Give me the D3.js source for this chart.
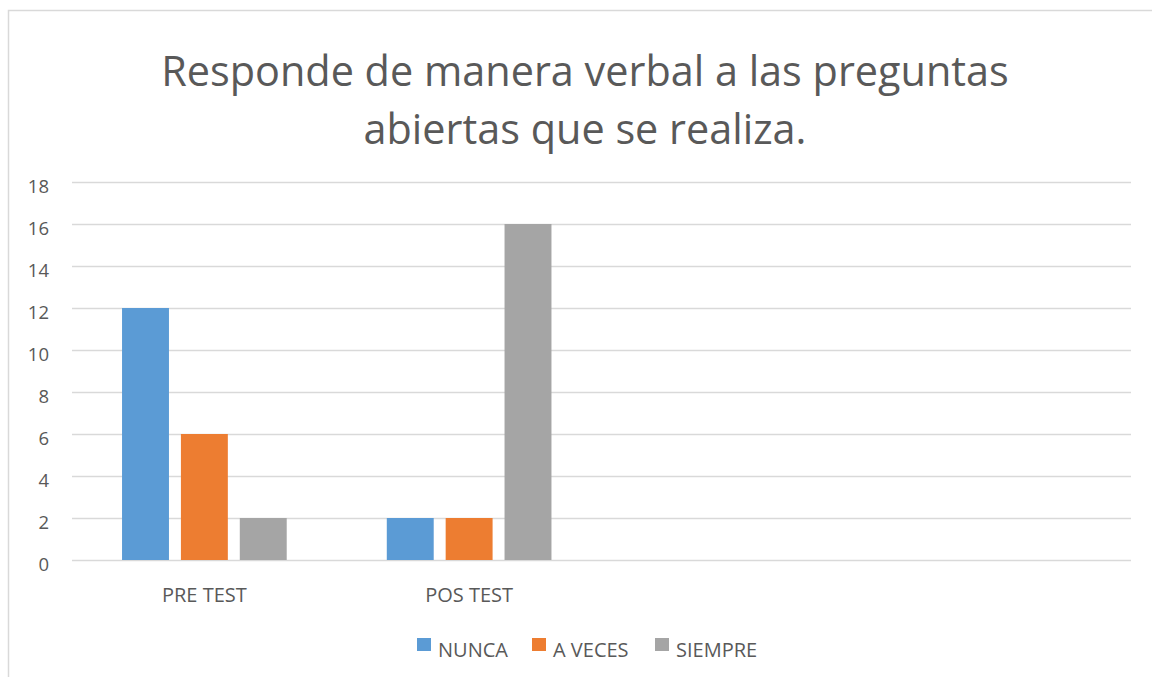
<!DOCTYPE html>
<html>
<head>
<meta charset="utf-8">
<script src="https://cdn.jsdelivr.net/npm/d3@7"></script>
<style>
    body { margin: 0; background: #fff; }
    svg { display: block; }
</style>
</head>
<body>
<div id="chart"></div>
<script>
const categories = ['PRE TEST', 'POS TEST', '', ' '];
const seriesNames = ['NUNCA', 'A VECES', 'SIEMPRE'];
const nunca = [12, 2, null, null];
const aVeces = [6, 2, null, null];
const siempre = [2, 16, null, null];
const yTicks = [0, 2, 4, 6, 8, 10, 12, 14, 16, 18];
const titleLines = ['Responde de manera verbal a las preguntas', 'abiertas que se realiza.'];

const colors = ['#5B9BD5', '#ED7D31', '#A5A5A5'];
const textColor = '#595959';
const font = '"Open Sans", sans-serif';

const w = 1152, h = 677;
const m = { left: 72, right: 1131, top: 182, bottom: 560 };

const seriesValues = [nunca, aVeces, siempre];
const rows = categories.map((c, i) => ({
    cat: c,
    vals: seriesNames.map((s, j) => ({ key: s, value: seriesValues[j][i] }))
}));

const svg = d3.select('#chart')
    .append('svg')
    .attr('width', w)
    .attr('height', h)
    .style('font-family', font);

// chart border (runs off the right and bottom edge)
svg.append('rect')
    .attr('x', 8.5)
    .attr('y', 10.5)
    .attr('width', w + 20)
    .attr('height', h + 20)
    .style('fill', '#fff')
    .style('stroke', '#D9D9D9')
    .style('stroke-width', '1.5px');

const title = svg.append('text')
    .attr('text-anchor', 'middle')
    .style('font-size', '41.4px')
    .style('fill', textColor);

title.selectAll('tspan')
    .data(titleLines)
    .join('tspan')
    .attr('x', 585)
    .attr('y', (d, i) => 86 + i * 58)
    .text(d => d);

const x0 = d3.scaleBand()
    .domain(categories)
    .range([m.left, m.right])
    .padding(0);

const bw = x0.bandwidth();
const x1 = d3.scaleBand()
    .domain(seriesNames)
    .range([bw * 0.189, bw * 0.811])
    .paddingInner(0.203)
    .paddingOuter(0);

const y = d3.scaleLinear()
    .domain([0, 18])
    .range([m.bottom, m.top]);

// gridlines
svg.append('g')
    .selectAll('line')
    .data(yTicks)
    .join('line')
    .attr('x1', m.left)
    .attr('x2', m.right)
    .attr('y1', d => y(d) + 0.5)
    .attr('y2', d => y(d) + 0.5)
    .style('stroke', '#D9D9D9')
    .style('stroke-width', '1.3px');

// y labels
svg.append('g')
    .selectAll('text')
    .data(yTicks)
    .join('text')
    .attr('text-anchor', 'end')
    .attr('x', 49)
    .attr('y', d => y(d) + 11)
    .style('font-size', '18.5px')
    .style('fill', textColor)
    .text(d => d);

// bars
svg.append('g')
    .selectAll('g')
    .data(rows)
    .join('g')
    .attr('transform', d => `translate(${x0(d.cat)},0)`)
    .selectAll('rect')
    .data(d => d.vals.filter(v => v.value !== null))
    .join('rect')
    .attr('x', d => x1(d.key))
    .attr('y', d => y(d.value))
    .attr('width', x1.bandwidth())
    .attr('height', d => y(0) - y(d.value))
    .style('fill', d => colors[seriesNames.indexOf(d.key)]);

// category labels
svg.append('g')
    .selectAll('text')
    .data(categories)
    .join('text')
    .attr('text-anchor', 'middle')
    .attr('x', d => x0(d) + bw / 2)
    .attr('y', 602)
    .style('font-size', '20px')
    .style('fill', textColor)
    .text(d => d.trim());

// legend
const legendX = [417, 532, 655];
const legend = svg.append('g')
    .selectAll('g')
    .data(seriesNames)
    .join('g')
    .attr('transform', (d, i) => `translate(${legendX[i]},638)`);

legend.append('rect')
    .attr('width', 14)
    .attr('height', 13)
    .style('fill', (d, i) => colors[i]);

legend.append('text')
    .attr('x', 21)
    .attr('y', 19)
    .style('font-size', '20px')
    .style('fill', textColor)
    .text(d => d);
</script>
</body>
</html>
